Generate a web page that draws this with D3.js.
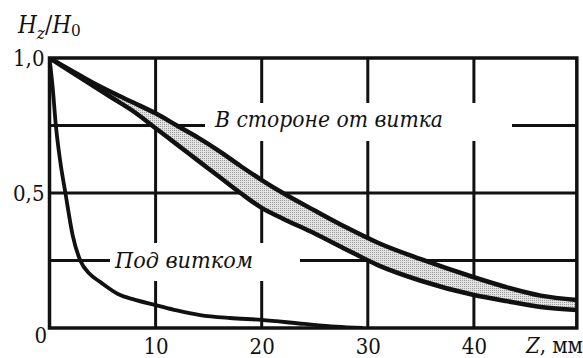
<!DOCTYPE html>
<html>
<head>
<meta charset="utf-8">
<script src="https://cdn.jsdelivr.net/npm/d3@7"></script>
<style>
  html, body { margin: 0; padding: 0; background: #fff; }
  svg { display: block; }
</style>
</head>
<body>
<svg id="chart" width="583" height="358"></svg>
<script>
// Field ratio Hz/H0 versus distance Z (mm)
const xTicks = [10, 20, 30, 40];
const yTicks = [0.5, 1.0];
const gridX = [10, 20, 30, 40];
const gridY = [0.25, 0.5, 0.75];

// Curve under the coil
const underZ = [0, 0.3, 0.6, 1.0, 1.5, 2.2, 2.9, 3.8, 4.8, 6.5, 8, 10, 12, 14.2, 17, 20, 24, 27, 29.5];
const underH = [1.0, 0.89, 0.75, 0.62, 0.5, 0.34, 0.25, 0.2, 0.17, 0.125, 0.105, 0.085, 0.065, 0.048, 0.037, 0.03, 0.015, 0.005, 0];

// Band beside the coil: upper and lower boundary
const sideZ = [0, 2, 4, 6, 8, 10, 12, 14, 16, 18, 20, 22, 25, 28, 31, 35, 40, 43, 46.3, 49.7];
const sideUpper = [1.0, 0.955, 0.91, 0.87, 0.833, 0.795, 0.75, 0.705, 0.655, 0.6, 0.548, 0.5, 0.435, 0.372, 0.315, 0.255, 0.188, 0.152, 0.12, 0.104];
const sideLower = [1.0, 0.95, 0.9, 0.85, 0.8, 0.74, 0.68, 0.62, 0.56, 0.5, 0.445, 0.405, 0.35, 0.29, 0.232, 0.175, 0.122, 0.1, 0.078, 0.067];

const labelSide = "В стороне от витка";
const labelUnder = "Под витком";

const FONT = "'DejaVu Serif Condensed', 'DejaVu Serif', serif";

const svg = d3.select("#chart");
const x = d3.scaleLinear().domain([0, 50]).range([49.5, 580]);
const y = d3.scaleLinear().domain([0, 1]).range([328, 58]);
const zMax = 49.7;

const defs = svg.append("defs");
defs.append("clipPath").attr("id", "plotClip")
  .append("rect").attr("x", x(0)).attr("y", y(1)).attr("width", x(zMax) - x(0)).attr("height", y(0) - y(1));

// stipple fill for the band
const pat = defs.append("pattern")
  .attr("id", "stipple").attr("width", 2).attr("height", 2).attr("patternUnits", "userSpaceOnUse");
pat.append("rect").attr("width", 2).attr("height", 2).attr("fill", "#e4e4e4");
pat.append("rect").attr("width", 1).attr("height", 1).attr("fill", "#9a9a9a");

// grid lines
const grid = svg.append("g").attr("stroke", "#111").attr("stroke-width", 3);
grid.selectAll("line.gx").data(gridX).join("line").attr("class", "gx")
  .attr("x1", d => x(d)).attr("x2", d => x(d))
  .attr("y1", y(1)).attr("y2", y(0));
grid.selectAll("line.gy").data(gridY).join("line").attr("class", "gy")
  .attr("x1", x(0)).attr("x2", x(zMax))
  .attr("y1", d => y(d)).attr("y2", d => y(d));

// white clearings behind the in-plot labels
svg.append("rect").attr("x", 205).attr("y", 103).attr("width", 307).attr("height", 38).attr("fill", "#fff");
svg.append("rect").attr("x", 110).attr("y", 243).attr("width", 190).attr("height", 38).attr("fill", "#fff");

const plot = svg.append("g").attr("clip-path", "url(#plotClip)");

// band beside the coil
const bandData = sideZ.map((z, i) => ({ z, hi: sideUpper[i], lo: sideLower[i] }));
plot.append("path").datum(bandData)
  .attr("fill", "url(#stipple)")
  .attr("d", d3.area().x(d => x(d.z)).y0(d => y(d.lo)).y1(d => y(d.hi)).curve(d3.curveMonotoneX));
const edge = key => d3.line().x(d => x(d.z)).y(d => y(d[key])).curve(d3.curveMonotoneX);
["hi", "lo"].forEach(k => {
  plot.append("path").datum(bandData)
    .attr("fill", "none").attr("stroke", "#111").attr("stroke-width", 4.5)
    .attr("stroke-linejoin", "round")
    .attr("d", edge(k));
});

// curve under the coil
const underData = underZ.map((z, i) => ({ z, h: underH[i] }));
plot.append("path").datum(underData)
  .attr("fill", "none").attr("stroke", "#111").attr("stroke-width", 3.8)
  .attr("stroke-linejoin", "round")
  .attr("d", d3.line().x(d => x(d.z)).y(d => y(d.h)).curve(d3.curveMonotoneX));

// frame
svg.append("rect")
  .attr("x", x(0)).attr("y", y(1)).attr("width", x(zMax) - x(0)).attr("height", y(0) - y(1))
  .attr("fill", "none").attr("stroke", "#111").attr("stroke-width", 3.5);

// axes (labels only)
const fmt = d => d3.format(".1f")(d).replace(".", ",");
const xAxis = svg.append("g").attr("transform", `translate(0,${y(0)})`)
  .call(d3.axisBottom(x).tickValues(xTicks).tickSize(0).tickPadding(10));
const yAxis = svg.append("g").attr("transform", `translate(${x(0)},0)`)
  .call(d3.axisLeft(y).tickValues(yTicks).tickFormat(fmt).tickSize(0).tickPadding(5));
[xAxis, yAxis].forEach(a => {
  a.select(".domain").remove();
  a.attr("font-family", FONT).attr("font-size", 22);
  a.selectAll("text").attr("fill", "#111");
});

const texts = svg.append("g").attr("font-family", FONT).attr("font-size", 22).attr("fill", "#111");

texts.append("text").attr("x", 47).attr("y", 343).attr("text-anchor", "end").text("0");

// axis titles
const yt = texts.append("text").attr("x", 18).attr("y", 33).attr("font-size", 24);
yt.append("tspan").attr("font-style", "italic").text("H");
yt.append("tspan").attr("font-style", "italic").attr("font-size", 17).attr("dy", 6).text("z");
yt.append("tspan").attr("dy", -6).text("/");
yt.append("tspan").attr("font-style", "italic").text("H");
yt.append("tspan").attr("font-size", 17).attr("dy", 3).text("0");

const xt = texts.append("text").attr("x", 583).attr("y", 353).attr("text-anchor", "end");
xt.append("tspan").attr("font-style", "italic").text("Z");
xt.append("tspan").text(", мм");

// in-plot labels
texts.append("text").attr("x", 215).attr("y", 127)
  .attr("font-style", "italic")
  .attr("textLength", 228).attr("lengthAdjust", "spacingAndGlyphs")
  .text(labelSide);
texts.append("text").attr("x", 115).attr("y", 268)
  .attr("font-style", "italic")
  .attr("textLength", 138).attr("lengthAdjust", "spacingAndGlyphs")
  .text(labelUnder);
</script>
</body>
</html>
